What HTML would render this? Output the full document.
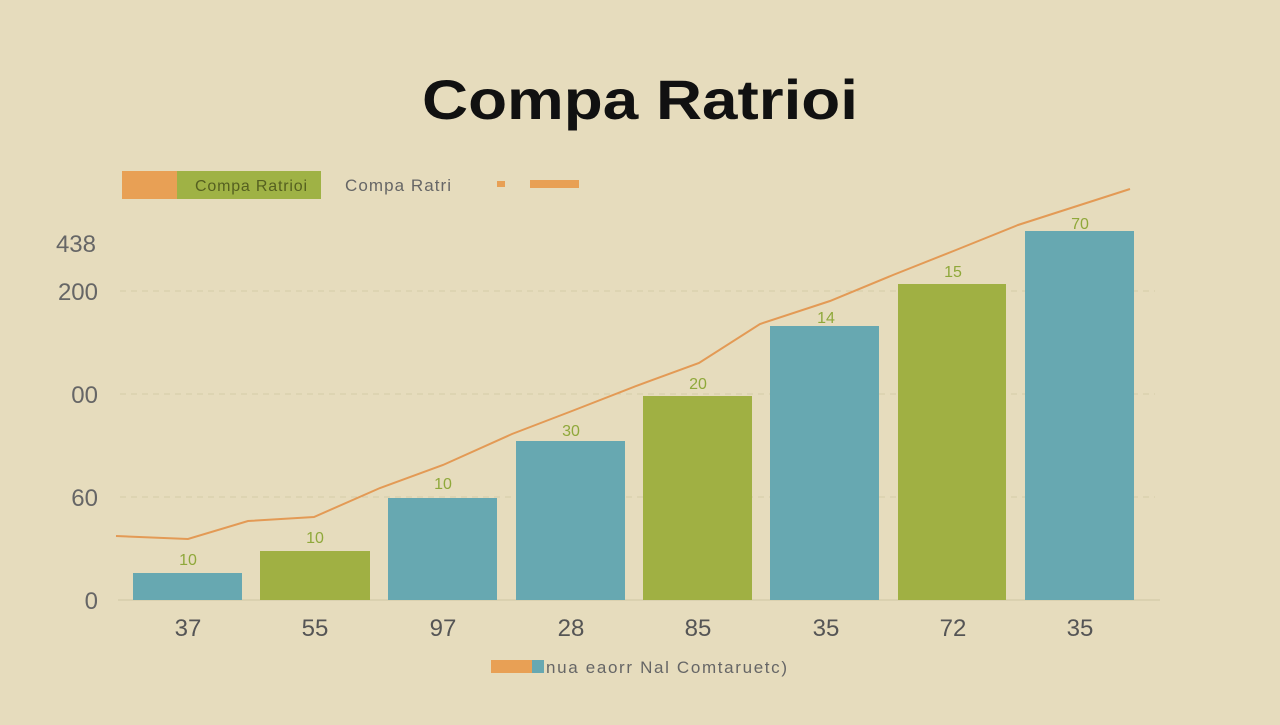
<!DOCTYPE html>
<html><head><meta charset="utf-8"><style>
html,body{margin:0;padding:0;background:#e6dcbd;}
body{width:1280px;height:720px;overflow:hidden;font-family:"Liberation Sans",sans-serif;}
</style></head><body>
<svg width="1280" height="720" xmlns="http://www.w3.org/2000/svg">
<rect width="1280" height="720" fill="#e6dcbd"/>
<text x="422" y="119" textLength="436" lengthAdjust="spacingAndGlyphs" font-size="56" font-weight="bold" fill="#111">Compa Ratrioi</text>
<rect x="122" y="171" width="55" height="28" fill="#e8a055"/>
<rect x="177" y="171" width="144" height="28" fill="#9fb245"/>
<text x="195" y="191" textLength="112" font-size="16" fill="#556020">Compa Ratrioi</text>
<text x="345" y="191" textLength="106" font-size="17" fill="#666">Compa Ratri</text>
<rect x="497" y="181" width="8" height="6" fill="#e8a055"/>
<rect x="530" y="180" width="49" height="8" fill="#e8a055"/>
<g stroke="#d4cba8" stroke-dasharray="6,5" stroke-width="1">
<line x1="120" y1="291" x2="1155" y2="291"/>
<line x1="120" y1="394" x2="1155" y2="394"/>
<line x1="120" y1="497" x2="1155" y2="497"/>
</g>
<line x1="118" y1="600" x2="1160" y2="600" stroke="#cfc6a4" stroke-width="1"/>
<g font-size="24" fill="#666" text-anchor="end">
<text x="96" y="252">438</text>
<text x="98" y="300">200</text>
<text x="98" y="403">00</text>
<text x="98" y="506">60</text>
<text x="98" y="609">0</text>
</g>
<g>
<rect x="133" y="573" width="109" height="27" fill="#67a8b1"/>
<rect x="260" y="551" width="110" height="49" fill="#a0b043"/>
<rect x="388" y="498" width="109" height="102" fill="#67a8b1"/>
<rect x="516" y="441" width="109" height="159" fill="#67a8b1"/>
<rect x="643" y="396" width="109" height="204" fill="#a0b043"/>
<rect x="770" y="326" width="109" height="274" fill="#67a8b1"/>
<rect x="898" y="284" width="108" height="316" fill="#a0b043"/>
<rect x="1025" y="231" width="109" height="369" fill="#67a8b1"/>
</g>
<polyline fill="none" stroke="#e39a55" stroke-width="2" points="116,536 188,539 248,521 314,517 380,488 443,465 512,434 572,411 636,386 699,363 760,324 830,301 893,275 956,250 1018,225 1130,189"/>
<g font-size="16" fill="#8fa83a" text-anchor="middle">
<text x="188" y="565">10</text>
<text x="315" y="543">10</text>
<text x="443" y="489">10</text>
<text x="571" y="436">30</text>
<text x="698" y="389">20</text>
<text x="826" y="323">14</text>
<text x="953" y="277">15</text>
<text x="1080" y="229">70</text>
</g>
<g font-size="24" fill="#555" text-anchor="middle">
<text x="188" y="636">37</text>
<text x="315" y="636">55</text>
<text x="443" y="636">97</text>
<text x="571" y="636">28</text>
<text x="698" y="636">85</text>
<text x="826" y="636">35</text>
<text x="953" y="636">72</text>
<text x="1080" y="636">35</text>
</g>
<rect x="491" y="660" width="41" height="13" fill="#e8a055"/>
<rect x="532" y="660" width="12" height="13" fill="#67a8b1"/>
<text x="546" y="673" textLength="241" font-size="17" fill="#666">nua eaorr Nal Comtaruetc)</text>
</svg>
</body></html>
